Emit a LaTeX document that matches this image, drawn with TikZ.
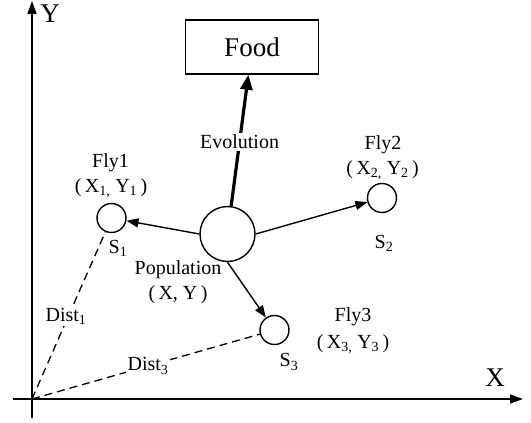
\documentclass[tikz,border=0pt]{standalone}
\usepackage{fontspec}
\setmainfont{Liberation Serif}
\usetikzlibrary{arrows.meta}
\newcommand{\sbs}[1]{\textsubscript{#1}}
\begin{document}
\begin{tikzpicture}[x=1pt,y=-1pt,
  lbl/.style={font=\fontsize{20}{22}\selectfont, inner sep=0pt},
  fly/.style={circle, draw, line width=1.4pt, minimum size=29pt, inner sep=0pt},
  arr/.style={line width=1.4pt, -{Triangle[length=12pt,width=9pt]}},
  dist/.style={line width=1.3pt, dash pattern=on 8pt off 5pt}]
\useasboundingbox (0,0) rectangle (531,423);
% axes
\coordinate (ybot) at (32,418);
\coordinate (ytop) at (32,1);
\coordinate (xl) at (13,399);
\coordinate (xr) at (523,399);
\coordinate (o) at (32,399);
\draw[line width=1.6pt, -{Triangle[length=13pt,width=9pt]}] (ybot) -- (ytop);
\draw[line width=1.6pt, -{Triangle[length=13pt,width=9pt]}] (xl) -- (xr);
\node[font=\fontsize{27}{29}\selectfont, inner sep=0pt] (ylab) at (50,14) {Y};
\node[font=\fontsize{27}{29}\selectfont, inner sep=0pt] (xlab) at (495,378) {X};
% nodes
\node[draw, line width=1.4pt, minimum width=133pt, minimum height=54pt, inner sep=0pt,
      font=\fontsize{27}{29}\selectfont] (food) at (252,47) {Food};
\node[circle, draw, line width=1.4pt, minimum size=55pt, inner sep=0pt] (pop) at (227.5,234) {};
\node[fly] (fly1) at (111.5,218) {};
\node[fly] (fly2) at (382,198) {};
\node[fly] (fly3) at (274.5,330) {};
% connectors
\draw[line width=3.2pt, -{Triangle[length=15pt,width=12pt]}] (pop) -- node[pos=0.49, fill=white, lbl, inner sep=2pt] (evo) {Evolution} (food);
\draw[arr] (pop.west) -- (fly1);
\draw[arr] (pop.east) -- (fly2);
\draw[arr] (pop.south) -- (fly3);
\draw[dist] (o) -- (fly1);
\draw[dist] (o) -- (fly3);
% labels
\node[lbl] (f1) at (110.5,163) {Fly1};
\node[lbl] (f1c) at (111,188) {(\,X\sbs{1,} Y\sbs{1}\,)};
\node[lbl] (s1) at (118,248) {S\sbs{1}};
\node[lbl] (f2) at (383,145) {Fly2};
\node[lbl] (f2c) at (382.5,170) {(\,X\sbs{2,} Y\sbs{2}\,)};
\node[lbl] (s2) at (384,243) {S\sbs{2}};
\node[lbl] (f3) at (353,317) {Fly3};
\node[lbl] (f3c) at (353,344) {(\,X\sbs{3,} Y\sbs{3}\,)};
\node[lbl] (s3) at (289,362) {S\sbs{3}};
\node[lbl] (popl) at (178,270) {Population};
\node[lbl] (popc) at (178,295) {(\,X, Y\,)};
\node[lbl, fill=white, inner sep=2pt] (d1) at (66,316) {Dist\sbs{1}};
\node[lbl, fill=white, inner sep=2pt] (d3) at (148,366) {Dist\sbs{3}};
\end{tikzpicture}
\end{document}
